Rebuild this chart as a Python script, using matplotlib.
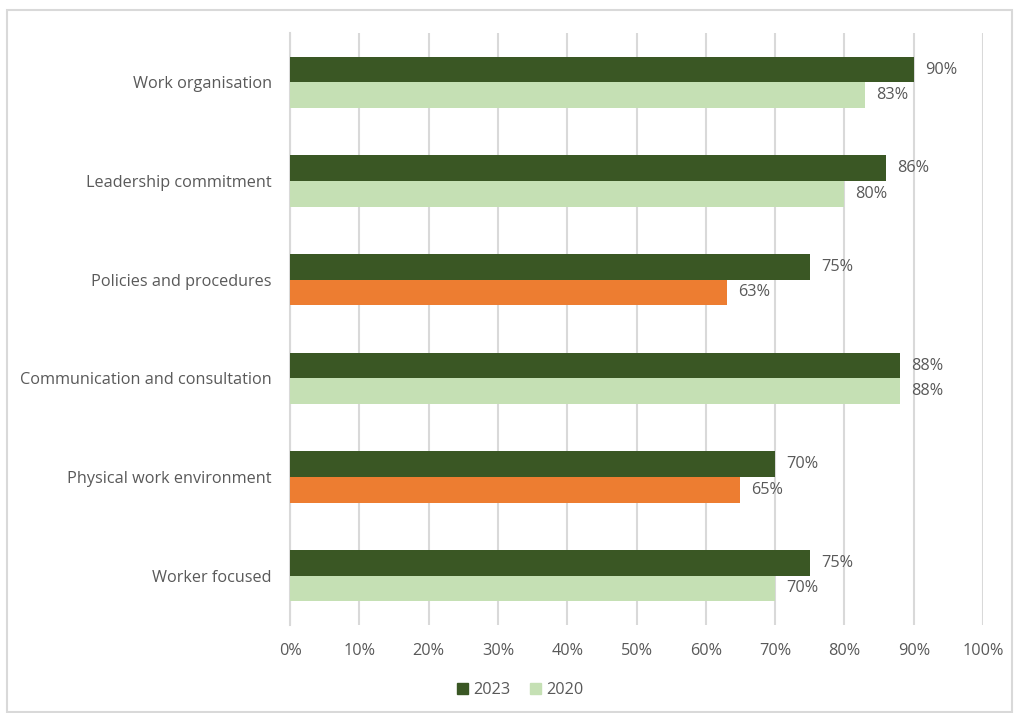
import matplotlib
matplotlib.use("Agg")
import matplotlib.pyplot as plt
from matplotlib.patches import Rectangle, Patch
import numpy as np

# categories from top to bottom, as in the chart
categories = ["Work organisation", "Leadership commitment", "Policies and procedures",
              "Communication and consultation", "Physical work environment", "Worker focused"]
values_2023 = [0.90, 0.86, 0.75, 0.88, 0.70, 0.75]
values_2020 = [0.83, 0.80, 0.63, 0.88, 0.65, 0.70]
# 2020 bars that dropped below 2023 by a lot are flagged orange
flag_2020 = [False, False, True, False, True, False]
ticks = np.arange(0, 1.01, 0.1)

dark_green = "#3A5724"
light_green = "#C5E0B4"
orange = "#ED7D31"
text_grey = "#595959"
fs = 11.7

plt.rcParams['font.family'] = ['Open Sans', 'DejaVu Sans']

fig = plt.figure(figsize=(10.14, 7.13), dpi=100)
ax = fig.add_axes([290 / 1014, 1 - 625 / 713, (983 - 290) / 1014, (625 - 33) / 713])

y = np.arange(len(categories))
h = 0.26
colors_2020 = [orange if f else light_green for f in flag_2020]

b1 = ax.barh(y - h / 2, values_2023, height=h, color=dark_green, zorder=3)
b2 = ax.barh(y + h / 2, values_2020, height=h, color=colors_2020, zorder=3)

for bars in (b1, b2):
    for bar in bars:
        w = bar.get_width()
        ax.annotate(f"{w * 100:.0f}%", (w, bar.get_y() + bar.get_height() / 2),
                    xytext=(8, 0), textcoords="offset points", va="center", ha="left",
                    fontsize=fs, color=text_grey)

ax.set_ylim(len(categories) - 0.5, -0.5)
ax.set_xlim(0, 1)
ax.set_yticks(y)
ax.set_yticklabels(categories, fontsize=fs, color=text_grey)
ax.set_xticks(ticks)
ax.set_xticklabels([f"{t * 100:.0f}%" for t in ticks], fontsize=fs, color=text_grey)
ax.tick_params(axis="x", length=0, pad=13)
ax.tick_params(axis="y", length=0, pad=13)
ax.grid(axis="x", color="#D9D9D9", linewidth=1.5, zorder=0)
for s in ["top", "right", "bottom"]:
    ax.spines[s].set_visible(False)
ax.spines["left"].set_color("#D9D9D9")
ax.spines["left"].set_linewidth(1.5)

handles = [Patch(color=dark_green, label="2023"), Patch(color=light_green, label="2020")]
fig.legend(handles=handles, loc="center", bbox_to_anchor=(520 / 1014, 1 - 690 / 713),
           ncol=2, frameon=False, fontsize=fs, handlelength=0.7, handleheight=0.7,
           handletextpad=0.3, columnspacing=1.2, labelcolor=text_grey)

# chart frame
fig.patches.append(Rectangle((7 / 1014, 1 / 713), 1005 / 1014, 702 / 713,
                             transform=fig.transFigure, fill=False,
                             edgecolor="#D9D9D9", linewidth=1.5))

fig.savefig("out.png", dpi=100)
